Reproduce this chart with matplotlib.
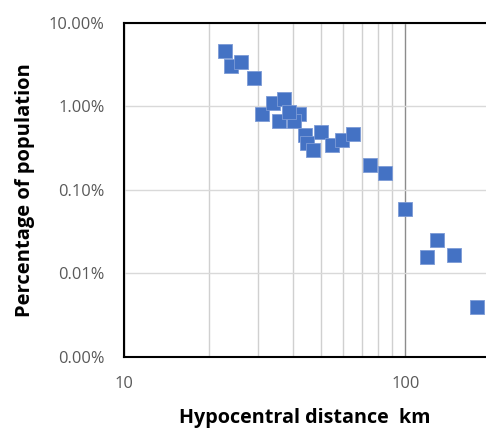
"""Share of population vs hypocentral distance, log-log scatter"""

import numpy as np
import matplotlib
matplotlib.use("Agg")
import matplotlib.pyplot as plt
from matplotlib.ticker import FixedLocator, FuncFormatter, NullFormatter

# hypocentral distance (km) and share of population (fraction)
distance = [22.9, 24.0, 26.1, 29.0, 30.9, 33.9, 37.0, 35.6, 41.9, 40.2,
            38.5, 44.0, 44.7, 46.8, 50.0, 54.7, 59.5, 65.0, 74.9, 84.7,
            100.0, 129.6, 119.8, 148.9, 180.3]
share = [0.0455, 0.0301, 0.0338, 0.0216, 0.0080, 0.0109, 0.0123, 0.0066, 0.0080, 0.0066,
         0.0085, 0.00448, 0.00362, 0.00301, 0.00491, 0.00340, 0.00391, 0.00469, 0.00201, 0.00158,
         0.00059, 0.000248, 0.000159, 0.000168, 0.0000402]

y_ticks = [1e-5, 1e-4, 1e-3, 1e-2, 1e-1]
x_ticks = [10, 100]

plt.rcParams['font.family'] = ['Open Sans', 'DejaVu Sans']

fig = plt.figure(figsize=(4.86, 4.29), dpi=100)
ax = fig.add_axes([0.2551, 0.1678, 0.7449, 0.7793])

ax.set_xscale("log")
ax.set_yscale("log")
ax.set_xlim(10, 10 ** 2.287)
ax.set_ylim(1e-5, 1e-1)

# grid lines like the spreadsheet chart
ax.xaxis.set_major_locator(FixedLocator(x_ticks))
ax.xaxis.set_minor_locator(FixedLocator([20, 30, 40, 50, 60, 70, 80, 90]))
ax.xaxis.set_minor_formatter(NullFormatter())
ax.xaxis.set_major_formatter(FuncFormatter(lambda v, p: "{:d}".format(int(v))))
ax.yaxis.set_major_locator(FixedLocator(y_ticks))
ax.yaxis.set_minor_locator(FixedLocator([]))
ax.yaxis.set_major_formatter(FuncFormatter(lambda v, p: "{:.2f}%".format(v * 100)))

ax.grid(True, which="major", axis="x", color="#8c8c8c", linewidth=1.0)
ax.grid(True, which="minor", axis="x", color="#d0d0d0", linewidth=1.0)
ax.grid(True, which="major", axis="y", color="#d9d9d9", linewidth=1.0)
ax.set_axisbelow(True)

ax.scatter(distance, share, marker="s", s=105, color="#4472C4",
           edgecolors="#7d9bd6", linewidths=0.6, zorder=3)

for side in ["left", "bottom", "top"]:
    ax.spines[side].set_color("black")
    ax.spines[side].set_linewidth(1.5)
ax.spines["right"].set_visible(False)

ax.tick_params(which="both", length=0)
ax.tick_params(axis="y", pad=14, labelsize=11.8, labelcolor="#595959")
ax.tick_params(axis="x", pad=14, labelsize=11.8, labelcolor="#595959")

ax.set_xlabel("Hypocentral distance  km", fontsize=14.2, fontweight="bold", labelpad=11)
ax.set_ylabel("Percentage of population", fontsize=14.5, fontweight="bold", labelpad=10)

fig.savefig("out.png", dpi=100)
